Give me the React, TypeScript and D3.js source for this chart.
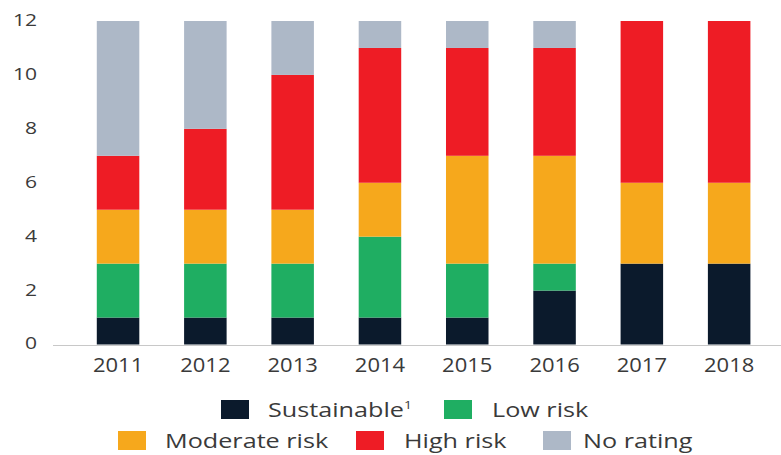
import React from "react";
import * as d3 from "d3";

const years = ["2011", "2012", "2013", "2014", "2015", "2016", "2017", "2018"];
const sustainable = [1, 1, 1, 1, 1, 2, 3, 3];
const lowRisk = [2, 2, 2, 3, 2, 1, 0, 0];
const moderateRisk = [2, 2, 2, 2, 4, 4, 3, 3];
const highRisk = [2, 3, 5, 5, 4, 4, 6, 6];
const noRating = [5, 4, 2, 1, 1, 1, 0, 0];
const yTicks = [0, 2, 4, 6, 8, 10, 12];

const seriesNames = ["Sustainable", "Low risk", "Moderate risk", "High risk", "No rating"];
const seriesColors = ["#0b1a2c", "#1fae62", "#f6a81c", "#ee1c25", "#adb8c7"];

export default function App() {
  const W = 781, H = 455;
  const keys = ["s", "l", "m", "h", "n"];
  const rows = years.map((y, i) => ({
    year: y, s: sustainable[i], l: lowRisk[i], m: moderateRisk[i], h: highRisk[i], n: noRating[i],
  }));
  const stacked = d3.stack<any>().keys(keys)(rows);
  const x = d3.scaleBand().domain(years).range([74.4, 772.8]).paddingInner(0.513).paddingOuter(0.2565);
  const y = d3.scaleLinear().domain([0, 12]).range([344.5, 21]);
  const font = "'Open Sans', sans-serif";
  const textColor = "#3a3a3a";

  const legend = [
    { i: 0, sx: 221, sy: 400, tx: 268, label: "Sustainable", sup: true },
    { i: 1, sx: 444, sy: 400, tx: 492, label: "Low risk" },
    { i: 2, sx: 118, sy: 431, tx: 165, label: "Moderate risk" },
    { i: 3, sx: 356, sy: 431, tx: 404, label: "High risk" },
    { i: 4, sx: 543, sy: 431, tx: 583, label: "No rating" },
  ];

  return (
    <svg width={W} height={H} style={{ position: "absolute", left: 0, top: 0, background: "#fff" }}>
      <line x1={53} x2={781} y1={y(0) + 1} y2={y(0) + 1} stroke="#c8c8c8" strokeWidth={1} />
      {stacked.map((layer, li) =>
        layer.map((d, i) =>
          d[1] - d[0] > 0 ? (
            <rect
              key={li + "-" + i}
              x={x(years[i])}
              width={x.bandwidth()}
              y={y(d[1])}
              height={y(d[0]) - y(d[1])}
              fill={seriesColors[li]}
            />
          ) : null
        )
      )}
      {yTicks.map((t) => (
        <text key={t} transform={`translate(37,${y(t) - 1}) scale(1.24,1)`} dy="0.35em" textAnchor="end" fontFamily={font} fontSize={17} fill={textColor}>
          {t}
        </text>
      ))}
      {years.map((yr) => (
        <text key={yr} transform={`translate(${(x(yr) as number) + x.bandwidth() / 2},372) scale(1.1,1)`} textAnchor="middle" fontFamily={font} fontSize={20} fill={textColor}>
          {yr}
        </text>
      ))}
      {legend.map((l) => (
        <g key={l.label}>
          <rect x={l.sx} y={l.sy} width={28} height={19} fill={seriesColors[l.i]} />
          <text transform={`translate(${l.tx},${l.sy + 17}) scale(1.26,1)`} fontFamily={font} fontSize={20} fill={textColor}>
            {seriesNames[l.i]}
            {l.sup ? <tspan fontSize={11} dy={-8}>1</tspan> : null}
          </text>
        </g>
      ))}
    </svg>
  );
}
